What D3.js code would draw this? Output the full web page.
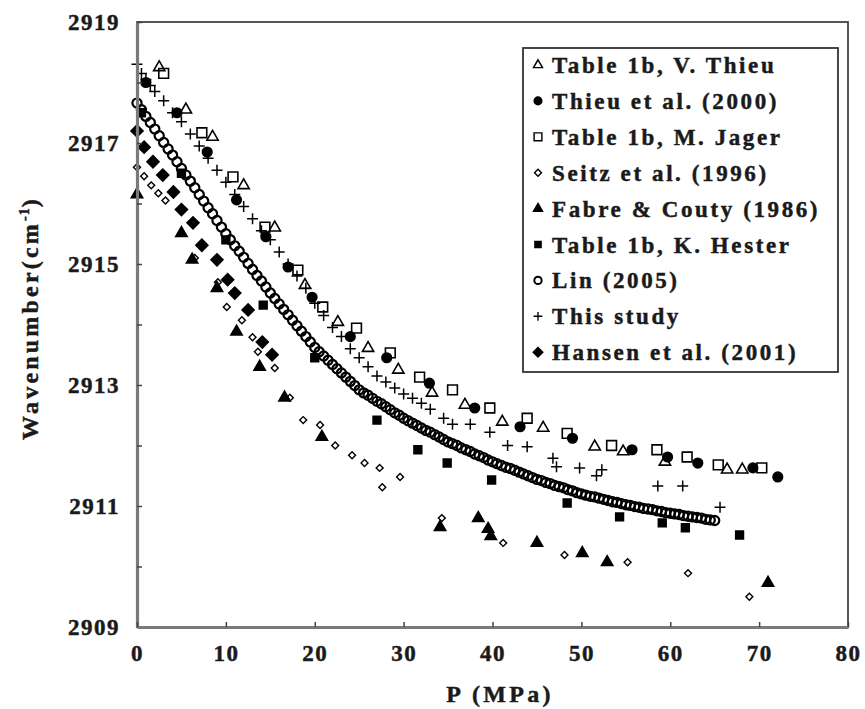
<!DOCTYPE html>
<html>
<head>
<meta charset="utf-8">
<script src="https://cdn.jsdelivr.net/npm/d3@7"></script>
<style>
  body { margin: 0; background: #fff; }
</style>
</head>
<body>
<svg id="chart" width="865" height="709"></svg>
<script>
// [P (MPa), wavenumber (cm-1)]
const vThieuTable = [[2.5, 2918.25], [5.5, 2917.55], [8.5, 2917.1], [12, 2916.3], [15.5, 2915.6],
  [18.9, 2914.65], [22.6, 2914.04], [26.0, 2913.61], [29.4, 2913.25], [33.2, 2912.87], [36.9, 2912.67],
  [41.1, 2912.39], [45.7, 2912.29], [51.5, 2911.98], [54.7, 2911.9], [59.4, 2911.73], [66.4, 2911.6], [68.1, 2911.6]];

const thieu2000 = [[1.0, 2918.0], [4.5, 2917.5], [7.9, 2916.85], [11.2, 2916.06], [14.5, 2915.45],
  [17.0, 2914.95], [19.7, 2914.45], [24.0, 2913.8], [28.1, 2913.45], [32.9, 2913.03], [38.0, 2912.62],
  [43.1, 2912.31], [49.0, 2912.12], [55.7, 2911.93], [59.7, 2911.81], [63.1, 2911.71], [69.3, 2911.63], [72.1, 2911.48]];

const jagerTable = [[3.0, 2918.15], [7.3, 2917.17], [10.8, 2916.44], [14.4, 2915.61], [18.1, 2914.9],
  [20.9, 2914.29], [24.7, 2913.94], [28.5, 2913.53], [31.8, 2913.13], [35.5, 2912.92], [39.7, 2912.62],
  [43.9, 2912.45], [48.4, 2912.2], [53.4, 2912.0], [58.5, 2911.93], [61.9, 2911.81], [65.4, 2911.68], [70.3, 2911.63]];

const seitz1996 = [[0, 2916.6], [0.8, 2916.45], [1.6, 2916.3], [2.4, 2916.17], [3.2, 2916.05], [6.5, 2915.1],
  [9.1, 2914.7], [10.1, 2914.29], [11.8, 2914.07], [13.0, 2913.79], [13.6, 2913.55], [15.5, 2913.28],
  [17.2, 2912.79], [18.7, 2912.42], [20.6, 2912.34], [22.3, 2912.0], [24.2, 2911.84], [25.6, 2911.71],
  [27.3, 2911.63], [27.6, 2911.31], [29.6, 2911.48], [34.3, 2910.8], [41.2, 2910.39], [48.1, 2910.19],
  [55.2, 2910.07], [62.0, 2909.89], [68.9, 2909.5]];

const fabreCouty = [[0, 2916.15], [5.0, 2915.51], [6.2, 2915.07], [9.0, 2914.6], [11.2, 2913.88],
  [13.8, 2913.3], [16.6, 2912.79], [20.8, 2912.14], [34.1, 2910.65], [38.4, 2910.8], [39.5, 2910.62],
  [39.8, 2910.5], [45.0, 2910.39], [50.1, 2910.22], [52.9, 2910.07], [71.0, 2909.73]];

const hesterTable = [[0.5, 2917.5], [5.0, 2916.5], [10.0, 2915.4], [14.2, 2914.32], [20.0, 2913.45],
  [27.0, 2912.42], [31.6, 2911.93], [34.9, 2911.71], [39.9, 2911.43], [48.4, 2911.05], [54.3, 2910.82],
  [59.1, 2910.72], [61.7, 2910.64], [67.8, 2910.52]];

const linP = [0, 0.5, 1, 1.5, 2, 2.5, 3, 3.5, 4, 4.5, 5, 5.5, 6, 6.5, 7, 7.5, 8, 8.5, 9, 9.5, 10,
  10.5, 11, 11.5, 12, 12.5, 13, 13.5, 14, 14.5, 15, 15.5, 16, 16.5, 17, 17.5, 18, 18.5, 19, 19.5, 20,
  20.5, 21, 21.5, 22, 22.5, 23, 23.5, 24, 24.5, 25, 25.5, 26, 26.5, 27, 27.5, 28, 28.5, 29, 29.5, 30,
  30.5, 31, 31.5, 32, 32.5, 33, 33.5, 34, 34.5, 35, 35.5, 36, 36.5, 37, 37.5, 38, 38.5, 39, 39.5, 40,
  40.5, 41, 41.5, 42, 42.5, 43, 43.5, 44, 44.5, 45, 45.5, 46, 46.5, 47, 47.5, 48, 48.5, 49, 49.5, 50,
  50.5, 51, 51.5, 52, 52.5, 53, 53.5, 54, 54.5, 55, 55.5, 56, 56.5, 57, 57.5, 58, 58.5, 59, 59.5, 60,
  60.5, 61, 61.5, 62, 62.5, 63, 63.5, 64, 64.5, 65];
const linW = [2917.66, 2917.55, 2917.44, 2917.34, 2917.23, 2917.12, 2917.01, 2916.90, 2916.80, 2916.69, 2916.58,
  2916.47, 2916.37, 2916.26, 2916.15, 2916.04, 2915.93, 2915.83, 2915.72, 2915.61, 2915.50,
  2915.40, 2915.30, 2915.21, 2915.11, 2915.01, 2914.91, 2914.81, 2914.72, 2914.62, 2914.52,
  2914.43, 2914.34, 2914.25, 2914.16, 2914.07, 2913.98, 2913.89, 2913.80, 2913.71, 2913.62,
  2913.55, 2913.48, 2913.41, 2913.34, 2913.27, 2913.20, 2913.13, 2913.06, 2912.99, 2912.92,
  2912.87, 2912.83, 2912.78, 2912.73, 2912.69, 2912.64, 2912.59, 2912.54, 2912.50, 2912.45,
  2912.41, 2912.37, 2912.33, 2912.29, 2912.25, 2912.22, 2912.18, 2912.14, 2912.10, 2912.06,
  2912.03, 2912.00, 2911.96, 2911.93, 2911.90, 2911.86, 2911.83, 2911.80, 2911.76, 2911.73,
  2911.70, 2911.67, 2911.64, 2911.62, 2911.59, 2911.56, 2911.53, 2911.50, 2911.47, 2911.44,
  2911.42, 2911.39, 2911.37, 2911.34, 2911.32, 2911.30, 2911.27, 2911.25, 2911.22, 2911.20,
  2911.18, 2911.16, 2911.15, 2911.13, 2911.11, 2911.09, 2911.07, 2911.06, 2911.04, 2911.02,
  2911.01, 2910.99, 2910.98, 2910.96, 2910.95, 2910.94, 2910.92, 2910.91, 2910.89, 2910.88,
  2910.87, 2910.86, 2910.84, 2910.83, 2910.82, 2910.81, 2910.80, 2910.78, 2910.77, 2910.76];

const thisStudy = [[0, 2918.3], [0.5, 2918.15], [1, 2918.05], [1.5, 2917.95], [2, 2917.85], [3, 2917.7],
  [4, 2917.5], [5, 2917.35], [6, 2917.15], [7, 2916.95], [8, 2916.75], [9, 2916.55], [10, 2916.35],
  [11, 2916.15], [12, 2915.95], [13, 2915.75], [14, 2915.55], [15, 2915.4], [16, 2915.2], [17, 2915.0],
  [18, 2914.8], [19, 2914.6], [20, 2914.35], [21, 2914.15], [22, 2913.95], [23, 2913.8], [24, 2913.6],
  [25, 2913.45], [26, 2913.3], [27, 2913.15], [28, 2913.05], [29, 2912.95], [30, 2912.85], [31, 2912.78],
  [32, 2912.7], [33, 2912.6], [34.5, 2912.45], [35.5, 2912.35], [37.5, 2912.35], [39.7, 2912.22],
  [41.7, 2912.0], [43.9, 2911.98], [46.8, 2911.79], [47.2, 2911.65], [49.8, 2911.63], [51.7, 2911.5],
  [52.3, 2911.6], [58.6, 2911.33], [61.4, 2911.33], [65.6, 2910.98]];

const hansen2001 = [[0, 2917.2], [0.8, 2916.93], [1.8, 2916.69], [2.9, 2916.47], [4.1, 2916.19], [5.0, 2915.9],
  [6.3, 2915.68], [7.3, 2915.31], [9.0, 2915.07], [10.2, 2914.74], [11.0, 2914.52], [12.5, 2914.24],
  [14.1, 2913.71], [15.2, 2913.5]];

const legendLabels = ['Table 1b, V. Thieu', 'Thieu et al. (2000)', 'Table 1b, M. Jager', 'Seitz et al. (1996)',
  'Fabre & Couty (1986)', 'Table 1b, K. Hester', 'Lin (2005)', 'This study', 'Hansen et al. (2001)'];
const yTicks = [2909, 2910, 2911, 2912, 2913, 2914, 2915, 2916, 2917, 2918, 2919];
const xTicks = [0, 10, 20, 30, 40, 50, 60, 70, 80];

const linData = linP.map((p, i) => [p, linW[i]]);

// marker styles, in legend order
const series = [
  {data: vThieuTable, kind: 'triOpen'},
  {data: thieu2000, kind: 'circleFill'},
  {data: jagerTable, kind: 'squareOpen'},
  {data: seitz1996, kind: 'diamondOpen'},
  {data: fabreCouty, kind: 'triFill'},
  {data: hesterTable, kind: 'squareFill'},
  {data: linData, kind: 'circleOpen'},
  {data: thisStudy, kind: 'plus'},
  {data: hansen2001, kind: 'diamondFill'}
];
const drawOrder = [6, 5, 3, 4, 8, 7, 2, 0, 1];

const serifFont = 'Liberation Serif';
const ink = '#1a1a1a';

const svg = d3.select('#chart');
const x = d3.scaleLinear().domain([0, 80]).range([137, 848]);
const y = d3.scaleLinear().domain([2909, 2919]).range([627, 22]);

// bold serif text, lightly stroked to get the heavy look of the scan
function styleText(sel, size, spacing) {
  sel.attr('font-family', serifFont)
    .attr('font-weight', 'bold')
    .attr('font-size', size)
    .attr('letter-spacing', spacing)
    .attr('fill', ink)
    .attr('stroke', ink)
    .attr('stroke-width', 0.45);
}

function marker(sel, kind, k) {
  // k scales the marker down for the legend
  const sym = (type, size) => d3.symbol().type(type).size(size * k * k)();
  let path = null, fill = 'none', sw = 1.6, rot = 0;
  switch (kind) {
    case 'triOpen': path = sym(d3.symbolTriangle, 55); break;
    case 'circleFill': path = sym(d3.symbolCircle, 72); fill = '#000'; break;
    case 'squareOpen': path = sym(d3.symbolSquare, 95); break;
    case 'diamondOpen': path = sym(d3.symbolSquare, 24); rot = 45; sw = 1.4; break;
    case 'triFill': path = sym(d3.symbolTriangle, 55); fill = '#000'; break;
    case 'squareFill': path = sym(d3.symbolSquare, 60); fill = '#000'; break;
    case 'circleOpen': path = sym(d3.symbolCircle, 66); sw = 2.2; break;
    case 'plus': {
      const s = 5.5 * k;
      path = `M${-s},0H${s}M0,${-s}V${s}`; sw = 1.5; break;
    }
    case 'diamondFill': path = sym(d3.symbolSquare, 72); fill = '#000'; rot = 45; break;
  }
  sel.append('path')
    .attr('d', path)
    .attr('fill', fill)
    .attr('stroke', '#000')
    .attr('stroke-width', sw * Math.min(1, k + 0.1))
    .attr('transform', rot ? `rotate(${rot})` : null);
}

// frame
svg.append('rect')
  .attr('x', x(0)).attr('y', y(2919))
  .attr('width', x(80) - x(0)).attr('height', y(2909) - y(2919))
  .attr('fill', 'none').attr('stroke', '#444').attr('stroke-width', 1.8);

// data
drawOrder.forEach((si) => {
  const s = series[si];
  const g = svg.append('g').attr('class', 'series');
  g.selectAll('g')
    .data(s.data)
    .enter().append('g')
    .attr('transform', d => `translate(${x(d[0])},${y(d[1])})`)
    .each(function() { marker(d3.select(this), s.kind, 1); });
});

// axes
const yAxis = d3.axisLeft(y)
  .tickValues(yTicks)
  .tickSizeInner(-5).tickSizeOuter(0).tickPadding(17)
  .tickFormat(d => (d - 2909) % 2 === 0 ? d : '');
const xAxis = d3.axisBottom(x)
  .tickValues(xTicks)
  .tickSizeInner(-5).tickSizeOuter(0).tickPadding(18);

const gy = svg.append('g').attr('transform', `translate(${x(0)},0)`).call(yAxis);
const gx = svg.append('g').attr('transform', `translate(0,${y(2909)})`).call(xAxis);
[gx, gy].forEach((g) => {
  g.select('.domain').attr('stroke', '#7a7a7a').attr('stroke-width', 3.2);
  g.selectAll('.tick line').attr('stroke', '#444').attr('stroke-width', 1.5);
  g.selectAll('.tick text').call(styleText, 23, 1.5);
});

// axis titles
svg.append('text')
  .attr('x', 500).attr('y', 702)
  .attr('text-anchor', 'middle')
  .call(styleText, 24, 3.3)
  .text('P (MPa)');

const yt = svg.append('text')
  .attr('transform', 'translate(38,318) rotate(-90)')
  .attr('text-anchor', 'middle')
  .call(styleText, 24, 3.2);
yt.append('tspan').text('Wavenumber(cm');
yt.append('tspan').attr('dy', -9).attr('font-size', 14).attr('letter-spacing', 1).text('-1');
yt.append('tspan').attr('dy', 9).text(')');

// legend
const legend = svg.append('g');
legend.append('rect')
  .attr('x', 523).attr('y', 48).attr('width', 315).attr('height', 324)
  .attr('fill', '#fff').attr('stroke', '#333').attr('stroke-width', 1.8);

legendLabels.forEach((label, i) => {
  const row = legend.append('g').attr('transform', `translate(538,${65 + i * 35.9})`);
  row.append('g').each(function() {
    marker(d3.select(this), series[i].kind, series[i].kind === 'diamondOpen' ? 1.0 : 0.8);
  });
  row.append('text')
    .attr('x', 14).attr('dy', '0.35em')
    .call(styleText, 23, 2.6)
    .text(label);
});
</script>
</body>
</html>
